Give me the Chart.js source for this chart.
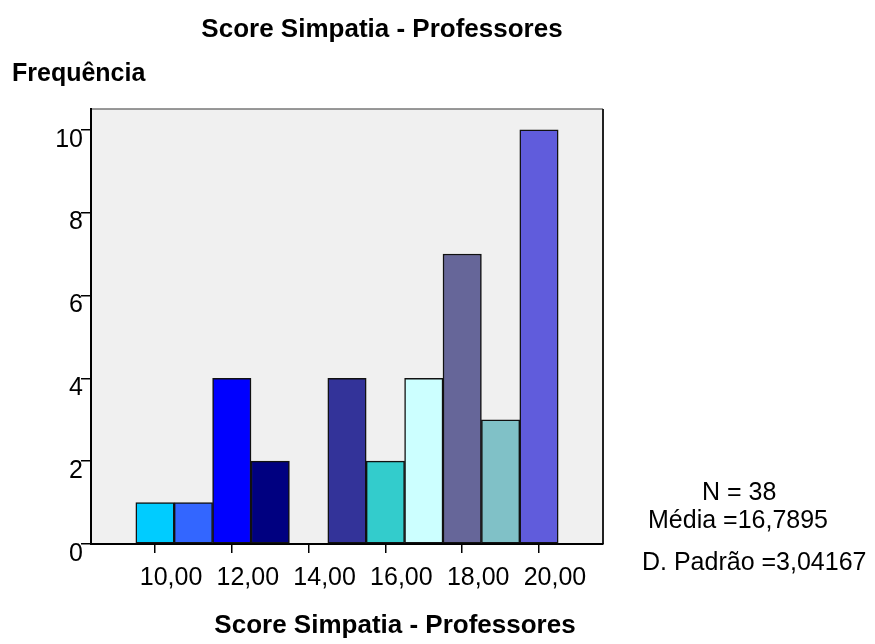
<!DOCTYPE html>
<html lang="pt">
<head>
    <meta charset="UTF-8">
    <title>Score Simpatia - Professores</title>
    <script src="https://cdn.jsdelivr.net/npm/chart.js"></script>
    <style>
        body {
            margin: 0;
            background-color: white;
        }
        #chartBox {
            width: 875px;
            height: 644px;
        }
    </style>
</head>
<body>
    <div id="chartBox">
        <canvas id="histChart" width="875" height="644"></canvas>
    </div>
    <script>
        // Histogram data (score -> frequency)
        const scores = [10, 11, 12, 13, 14, 15, 16, 17, 18, 19, 20];
        const counts = [1, 1, 4, 2, 0, 4, 2, 4, 7, 3, 10];
        const xTicks = [10, 12, 14, 16, 18, 20];
        const yTicks = [0, 2, 4, 6, 8, 10];
        const statLines = ['N = 38', 'Média =16,7895', 'D. Padrão =3,04167'];
        const chartTitle = 'Score Simpatia - Professores';
        const yTitle = 'Frequência';

        const barColors = ['#00ccff', '#3366ff', '#0000ff', '#000080', '#000000', '#333399',
                           '#33cccc', '#ccffff', '#666699', '#80c1c7', '#605cdc'];

        const FONT = "'Liberation Sans', Arial, sans-serif";

        // plot background + frame, and the free texts around the chart
        const decorations = {
            id: 'decorations',
            beforeDraw(chart) {
                const { ctx, chartArea: a } = chart;
                ctx.save();
                ctx.fillStyle = '#f0f0f0';
                ctx.fillRect(a.left, a.top, a.right - a.left, a.bottom - a.top);
                ctx.strokeStyle = '#777';
                ctx.lineWidth = 1.5;
                ctx.beginPath();
                ctx.moveTo(a.left, a.top);
                ctx.lineTo(a.right, a.top);
                ctx.stroke();
                ctx.strokeStyle = '#222';
                ctx.lineWidth = 2;
                ctx.beginPath();
                ctx.moveTo(a.right, a.top);
                ctx.lineTo(a.right, a.bottom);
                ctx.stroke();
                ctx.restore();
            },
            afterDraw(chart) {
                const ctx = chart.ctx;
                ctx.save();
                ctx.fillStyle = '#000';
                ctx.textBaseline = 'alphabetic';

                ctx.font = 'bold 26px ' + FONT;
                ctx.textAlign = 'center';
                ctx.fillText(chartTitle, 382, 37);
                ctx.fillText(chartTitle, 395, 633);

                ctx.font = 'bold 25px ' + FONT;
                ctx.textAlign = 'left';
                ctx.fillText(yTitle, 12, 81);

                ctx.font = '25px ' + FONT;
                ctx.fillText(statLines[0], 702, 500);
                ctx.fillText(statLines[1], 648, 528);
                ctx.fillText(statLines[2], 642, 570);
                ctx.restore();
            }
        };

        const ctx = document.getElementById('histChart').getContext('2d');
        new Chart(ctx, {
            type: 'bar',
            data: {
                datasets: [{
                    data: scores.map((s, i) => ({ x: s, y: counts[i] })),
                    backgroundColor: barColors,
                    borderColor: '#111',
                    borderWidth: 1.5,
                    borderSkipped: false,
                    barPercentage: 1,
                    categoryPercentage: 1
                }]
            },
            options: {
                responsive: false,
                animation: false,
                layout: {
                    padding: { left: 0, top: 109, right: 272, bottom: 0 }
                },
                plugins: {
                    legend: { display: false },
                    tooltip: { enabled: false }
                },
                scales: {
                    x: {
                        type: 'linear',
                        offset: false,
                        min: 8.333,
                        max: 21.667,
                        afterBuildTicks: (axis) => { axis.ticks = xTicks.map(v => ({ value: v })); },
                        afterFit: (axis) => { axis.height = 100; },
                        grid: { offset: false, drawOnChartArea: false, tickLength: 9, color: '#000', lineWidth: 1.5 },
                        border: { color: '#000', width: 2 },
                        ticks: {
                            color: '#000',
                            padding: 10,
                            labelOffset: 16,
                            maxRotation: 0,
                            font: { family: FONT, size: 25 },
                            callback: (v) => v.toFixed(2).replace('.', ',')
                        }
                    },
                    y: {
                        min: 0,
                        max: 10.5,
                        afterBuildTicks: (axis) => { axis.ticks = yTicks.map(v => ({ value: v })); },
                        afterFit: (axis) => { axis.width = 91; },
                        grid: { drawOnChartArea: false, tickLength: 10, color: '#000', lineWidth: 1.5 },
                        border: { color: '#000', width: 2 },
                        ticks: {
                            color: '#000',
                            padding: -2,
                            labelOffset: 10,
                            font: { family: FONT, size: 25 }
                        }
                    }
                }
            },
            plugins: [decorations]
        });
    </script>
</body>
</html>
